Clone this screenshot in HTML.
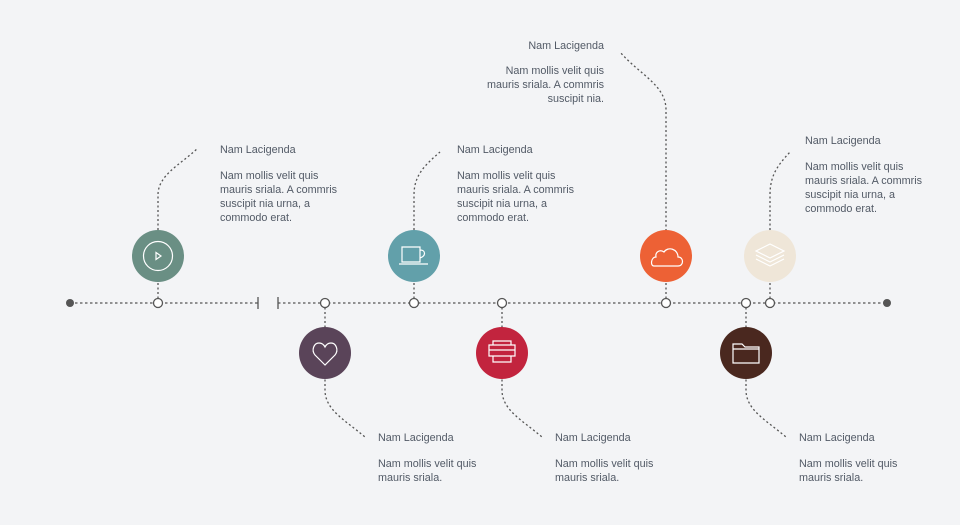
<!DOCTYPE html>
<html><head><meta charset="utf-8"><style>
body{margin:0;background:#f3f4f6;}
svg{display:block;font-family:"Liberation Sans",sans-serif;}
text{fill:#525a66;font-size:10.8px;}
</style></head><body>
<svg width="960" height="525" viewBox="0 0 960 525">
<rect width="960" height="525" fill="#f3f4f6"/>
<g stroke="#555" stroke-width="1.3" stroke-dasharray="2.5,2.5" fill="none">
<line x1="70" y1="303" x2="258" y2="303"/>
<line x1="278" y1="303" x2="887" y2="303"/>
</g>
<g stroke="#555" stroke-width="1.3"><line x1="258" y1="297" x2="258" y2="309"/><line x1="278" y1="297" x2="278" y2="309"/></g>
<circle cx="70" cy="303" r="4" fill="#555"/>
<circle cx="887" cy="303" r="4" fill="#555"/>
<g stroke="#555" stroke-width="1.3" stroke-dasharray="2,2.5" fill="none">
<path d="M158 303V230M158 230V195C158 175 180 165 198 148"/>
<path d="M325 303V390C325 410 345 420 365 437"/>
<path d="M414 303V230M414 230V195C414 175 425 165 440 152"/>
<path d="M502 303V390C502 410 522 420 542 437"/>
<path d="M666 303V110C666 85 640 75 620 52"/>
<path d="M746 303V390C746 410 766 420 786 437"/>
<path d="M770 303V230M770 230V195C770 175 778 165 790 152"/>
</g>
<g>
<circle cx="158" cy="256" r="26" fill="#6a8f84"/>
<circle cx="325" cy="353" r="26" fill="#5a4459"/>
<circle cx="414" cy="256" r="26" fill="#62a0aa"/>
<circle cx="502" cy="353" r="26" fill="#c2243e"/>
<circle cx="666" cy="256" r="26" fill="#ed6135"/>
<circle cx="746" cy="353" r="26" fill="#4a281f"/>
<circle cx="770" cy="256" r="26" fill="#efe6d8"/>
</g>
<g stroke="#fff" stroke-width="1.2" fill="none">
<circle cx="158" cy="256" r="14.5"/><path d="M156 252.5L161 256L156 259.5Z"/>
<path d="M325 365L315 355C311 350 314 343 319 343C322 343 324 345 325 347C326 345 328 343 331 343C336 343 339 350 335 355Z"/>
<path d="M402 247H420V262H402ZM420 250C426 250 426 256 420 258M399 264H428"/>
<path d="M489 345H515V356H489ZM493 345V341H511V345M493 356V362H511V356M489 350H515"/>
<path d="M654 266H678C684 266 684 257 678 257C678 249 668 246 664 252C660 249 655 252 656 257C651 257 650 266 654 266Z"/>
<path d="M733 344H742L745 347H759V363H733ZM733 349H759"/>
<path d="M770 244L784 251L770 258L756 251ZM756 255L770 262L784 255M756 259L770 266L784 259" stroke="#fff"/>
</g>
<g fill="#fff" stroke="#555" stroke-width="1.3">
<circle cx="158" cy="303" r="4.5"/><circle cx="325" cy="303" r="4.5"/><circle cx="414" cy="303" r="4.5"/>
<circle cx="502" cy="303" r="4.5"/><circle cx="666" cy="303" r="4.5"/><circle cx="746" cy="303" r="4.5"/><circle cx="770" cy="303" r="4.5"/>
</g>
<g><text x="220" y="153">Nam Lacigenda</text><text x="220" y="179">Nam mollis velit quis</text><text x="220" y="193">mauris sriala. A commris</text><text x="220" y="207">suscipit nia urna, a</text><text x="220" y="221">commodo erat.</text></g>
<g><text x="378" y="441">Nam Lacigenda</text><text x="378" y="467">Nam mollis velit quis</text><text x="378" y="481">mauris sriala.</text></g>
<g><text x="457" y="153">Nam Lacigenda</text><text x="457" y="179">Nam mollis velit quis</text><text x="457" y="193">mauris sriala. A commris</text><text x="457" y="207">suscipit nia urna, a</text><text x="457" y="221">commodo erat.</text></g>
<g><text x="555" y="441">Nam Lacigenda</text><text x="555" y="467">Nam mollis velit quis</text><text x="555" y="481">mauris sriala.</text></g>
<g text-anchor="end"><text x="604" y="49">Nam Lacigenda</text><text x="604" y="74">Nam mollis velit quis</text><text x="604" y="88">mauris sriala. A commris</text><text x="604" y="102">suscipit nia.</text></g>
<g><text x="799" y="441">Nam Lacigenda</text><text x="799" y="467">Nam mollis velit quis</text><text x="799" y="481">mauris sriala.</text></g>
<g><text x="805" y="144">Nam Lacigenda</text><text x="805" y="170">Nam mollis velit quis</text><text x="805" y="184">mauris sriala. A commris</text><text x="805" y="198">suscipit nia urna, a</text><text x="805" y="212">commodo erat.</text></g>
</svg>
</body></html>
